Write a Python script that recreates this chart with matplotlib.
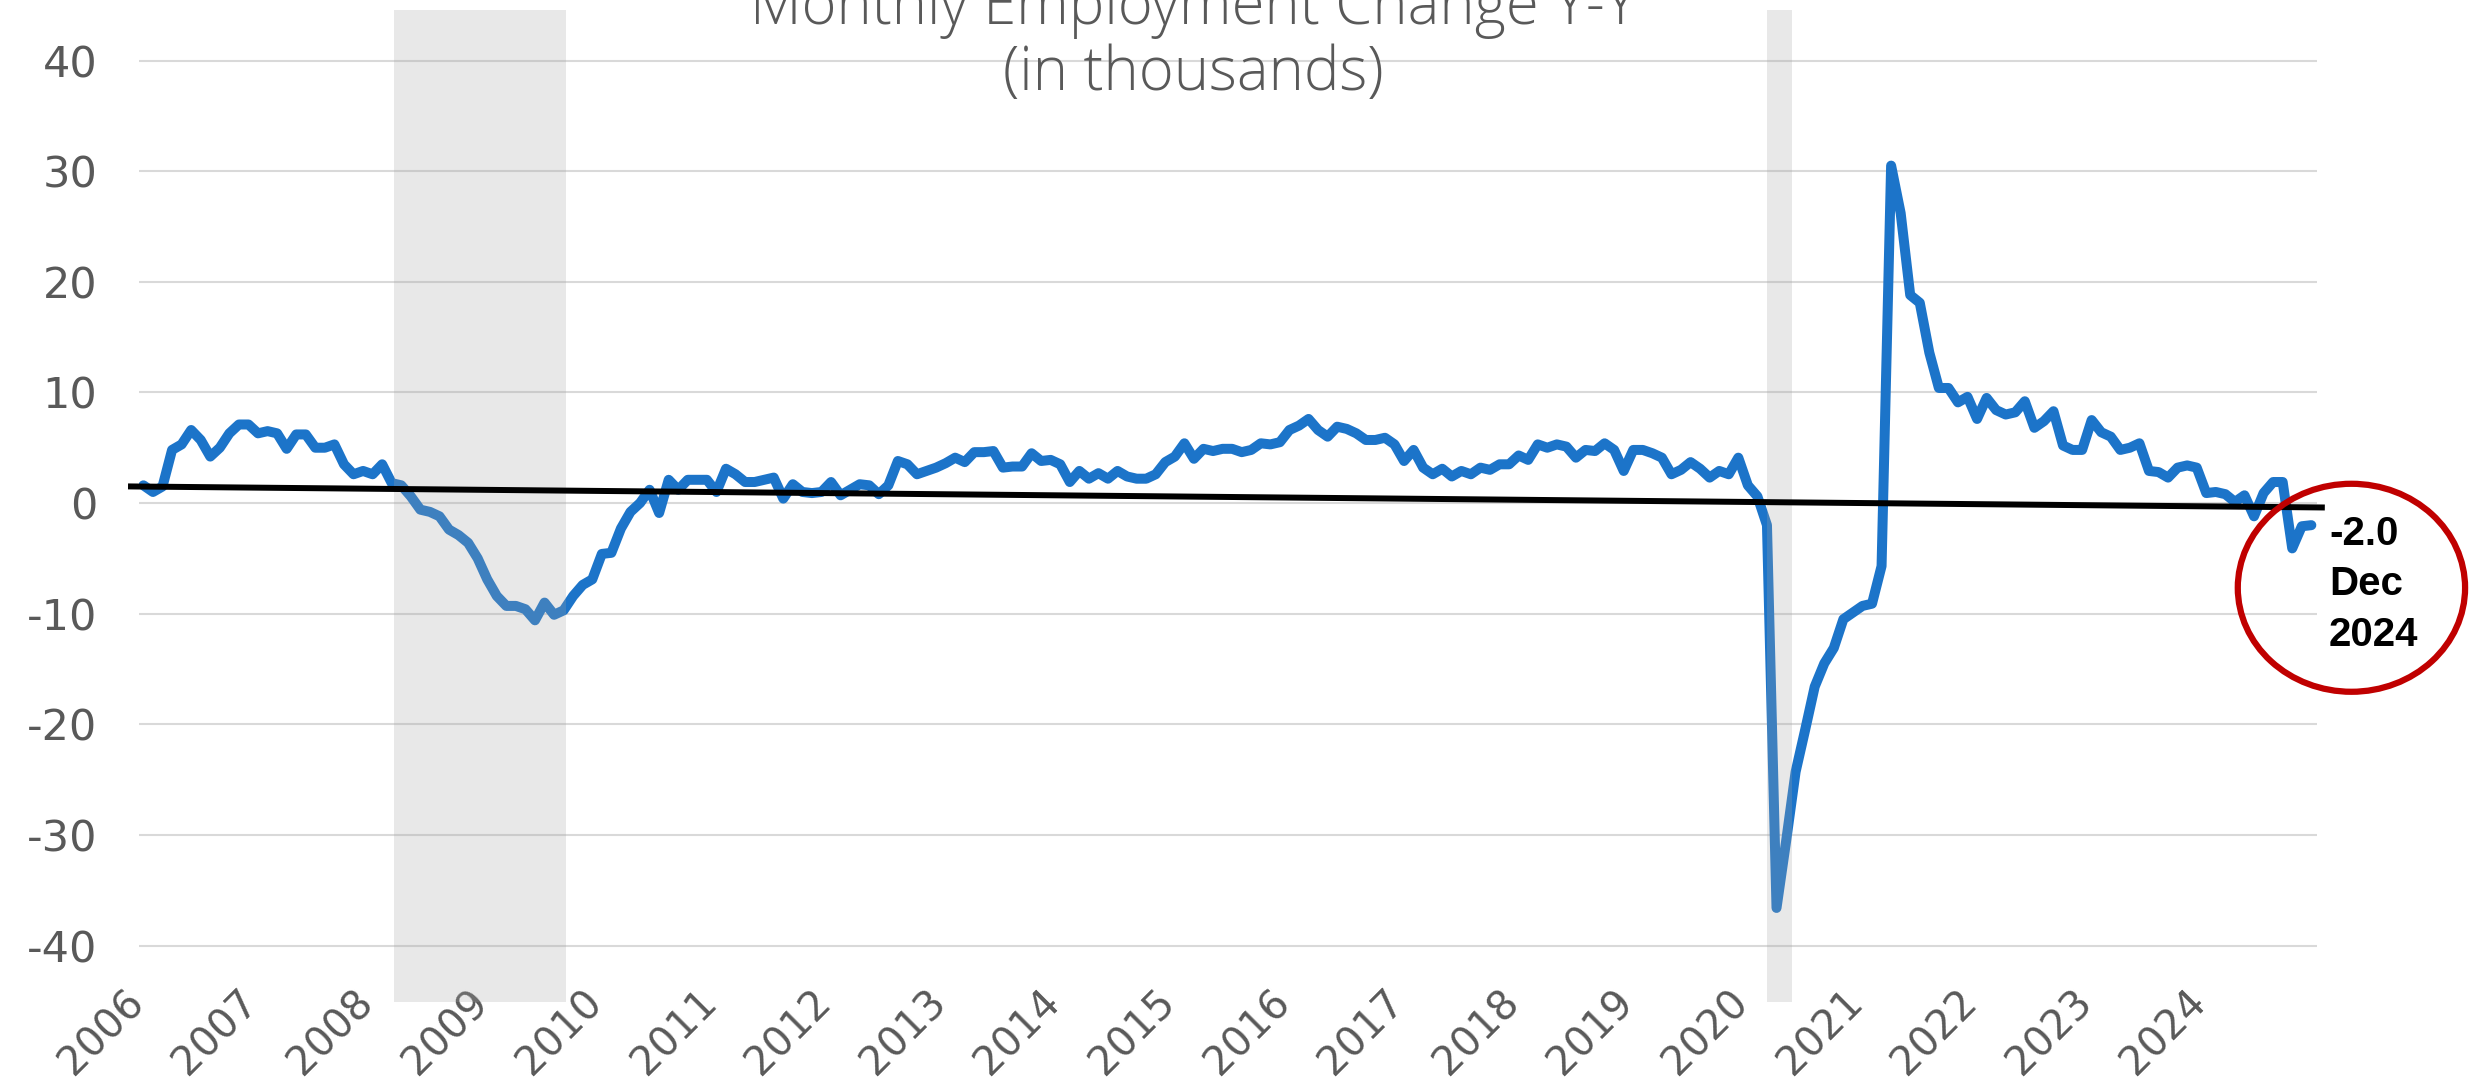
import matplotlib.pyplot as plt
from matplotlib.patches import Ellipse

# monthly series, Jan 2006 .. Dec 2024 (thousands, y-y change)
values = [
    1.6, 1.0, 1.5, 4.8, 5.3, 6.6, 5.7, 4.2, 5.0, 6.3, 7.1, 7.1,
    6.3, 6.5, 6.3, 4.9, 6.2, 6.2, 5.0, 5.0, 5.3, 3.5, 2.6, 2.9,
    2.6, 3.5, 1.8, 1.6, 0.6, -0.6, -0.8, -1.2, -2.4, -2.9, -3.6, -5.0,
    -6.9, -8.4, -9.3, -9.3, -9.6, -10.6, -9.0, -10.1, -9.7, -8.4, -7.4, -6.9,
    -4.6, -4.5, -2.3, -0.8, 0.0, 1.2, -0.9, 2.1, 1.2, 2.1, 2.1, 2.1,
    1.0, 3.1, 2.6, 1.9, 1.9, 2.1, 2.3, 0.4, 1.7, 1.0, 0.9, 1.0,
    1.9, 0.7, 1.2, 1.7, 1.6, 0.8, 1.6, 3.8, 3.5, 2.6, 2.9, 3.2,
    3.6, 4.1, 3.7, 4.6, 4.6, 4.7, 3.2, 3.3, 3.3, 4.5, 3.8, 3.9,
    3.5, 1.9, 2.9, 2.2, 2.7, 2.2, 2.9, 2.4, 2.2, 2.2, 2.6, 3.7,
    4.2, 5.4, 4.0, 4.9, 4.7, 4.9, 4.9, 4.6, 4.8, 5.4, 5.3, 5.5,
    6.6, 7.0, 7.6, 6.6, 6.0, 6.9, 6.7, 6.3, 5.7, 5.7, 5.9, 5.3,
    3.8, 4.8, 3.2, 2.6, 3.1, 2.4, 2.9, 2.6, 3.2, 3.0, 3.5, 3.5,
    4.3, 3.9, 5.3, 5.0, 5.3, 5.1, 4.1, 4.8, 4.7, 5.4, 4.8, 2.9,
    4.8, 4.8, 4.5, 4.1, 2.6, 3.0, 3.7, 3.1, 2.3, 2.9, 2.6, 4.1,
    1.6, 0.6, -2.0, -36.6, -30.6, -24.3, -20.5, -16.6, -14.5, -13.1, -10.5, -9.9,
    -9.3, -9.1, -5.7, 30.5, 26.2, 18.8, 18.1, 13.6, 10.4, 10.4, 9.1, 9.6,
    7.6, 9.5, 8.4, 8.0, 8.2, 9.2, 6.8, 7.4, 8.3, 5.2, 4.8, 4.8,
    7.5, 6.4, 6.0, 4.8, 5.0, 5.4, 2.9, 2.8, 2.3, 3.2, 3.4, 3.2,
    0.9, 1.0, 0.8, 0.1, 0.7, -1.2, 0.9, 1.9, 1.9, -4.1, -2.1, -2.0,
]
years = [str(y) for y in range(2006, 2025)]
recessions = [(26.25, 44.2), (170.0, 172.6)]   # month index spans
trend_x = [-1.3, 228.1]
trend_y = [1.5, -0.4]
yticks = [-40, -30, -20, -10, 0, 10, 20, 30, 40]

months = list(range(len(values)))

fig = plt.figure(figsize=(24.71, 10.81), dpi=100)
ax = fig.add_axes([0.0563, 0.0731, 0.8814, 0.918])

ax.plot(months, values, color="#1c74c9", lw=7.2, solid_joinstyle="round",
        solid_capstyle="round", zorder=3)
for a, b in recessions:
    ax.axvspan(a, b, color="#a4a4a4", alpha=0.25, lw=0, zorder=4)
ax.plot(trend_x, trend_y, color="black", lw=4.3, zorder=5, clip_on=False)

ax.set_xlim(-0.45, 227.6)
ax.set_ylim(-45.1, 44.6)
ax.set_yticks(yticks)
ax.set_yticklabels([str(v) for v in yticks])
ax.set_xticks([12 * i + 0.9 for i in range(len(years))])
ax.set_xticklabels(years, rotation=45, ha="right")
ax.grid(axis="y", color="#d9d9d9", lw=1.5, zorder=1)
ax.set_axisbelow(True)
for s in ax.spines.values():
    s.set_visible(False)
ax.tick_params(axis="y", length=0, pad=30, labelsize=31, labelcolor="#595959")
ax.tick_params(axis="x", length=0, pad=-14, labelsize=29, labelcolor="#595959")

title_font = dict(family="Open Sans", fontsize=43, color="#595959",
                  fontweight="light", ha="center", va="baseline")
fig.text(0.4828, 0.978, "Monthly Employment Change Y-Y", **title_font)
fig.text(0.4828, 0.9167, "(in thousands)", **title_font)

# call-out for the latest reading
ax.add_patch(Ellipse((231.2, -7.66), 23.8, 18.8, fill=False, ec="#c00000",
                     lw=4.5, clip_on=False, zorder=6))
label_font = dict(family="Liberation Sans", fontsize=29, fontweight="bold",
                  color="black", ha="left", va="baseline")
fig.text(0.9425, 0.4955, f"{values[-1]:.1f}", **label_font)
fig.text(0.9425, 0.4495, "Dec", **label_font)
fig.text(0.9425, 0.4025, "2024", **label_font)

fig.savefig("out.png", dpi=100)
